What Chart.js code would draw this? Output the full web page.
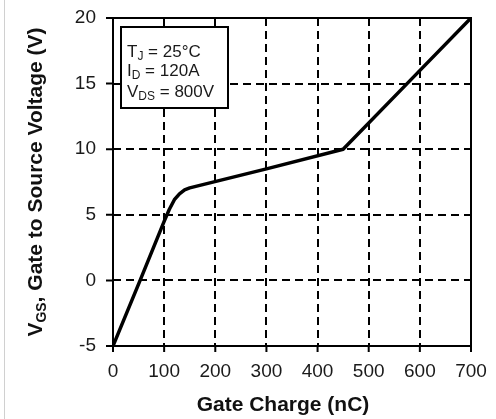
<!DOCTYPE html>
<html>
<head>
<meta charset="utf-8">
<script src="https://cdn.jsdelivr.net/npm/chart.js@4"></script>
<style>
  html, body { margin: 0; padding: 0; background: #fff; }
  #wrap { width: 496px; height: 419px; position: relative; }
</style>
</head>
<body>
<div id="wrap"><canvas id="chartGateCharge"></canvas></div>
<script>
// Gate charge curve
const gateCharge = [0, 53, 100, 110, 120, 130, 140, 150, 300, 450, 575, 700];
const vgs = [-5, 0, 4.5, 5.4, 6.15, 6.6, 6.9, 7.05, 8.5, 10, 15, 20];

const xTicks = [0, 100, 200, 300, 400, 500, 600, 700];
const yTicks = [-5, 0, 5, 10, 15, 20];

const FONTE = '"Liberation Sans", Arial, sans-serif';

// escreve texto com subscritos: partes = [[texto, ehSub], ...]
function textoRico(ctx, x, y, partes, tam, peso) {
    let px = x;
    partes.forEach(([txt, sub]) => {
        const t = sub ? Math.round(tam * 0.68) : tam;
        ctx.font = `${peso} ${t}px ${FONTE}`;
        ctx.fillText(txt, px, sub ? y + tam * 0.2 : y);
        px += ctx.measureText(txt).width;
    });
    return px - x;
}

function larguraRica(ctx, partes, tam, peso) {
    let w = 0;
    partes.forEach(([txt, sub]) => {
        const t = sub ? Math.round(tam * 0.68) : tam;
        ctx.font = `${peso} ${t}px ${FONTE}`;
        w += ctx.measureText(txt).width;
    });
    return w;
}

const molduraPlugin = {
    id: 'moldura',
    afterDraw(chart) {
        const ctx = chart.ctx;
        const a = chart.chartArea;
        const sx = chart.scales.x, sy = chart.scales.y;
        ctx.save();

        // borda cinza da imagem
        ctx.strokeStyle = '#d0d0d0';
        ctx.lineWidth = 1;
        ctx.beginPath();
        ctx.moveTo(4.5, 0); ctx.lineTo(4.5, chart.height);
        ctx.stroke();

        // moldura e marcas
        ctx.strokeStyle = '#000';
        ctx.lineWidth = 2;
        ctx.strokeRect(a.left, a.top, a.right - a.left, a.bottom - a.top);
        ctx.beginPath();
        xTicks.forEach(v => {
            const px = sx.getPixelForValue(v);
            ctx.moveTo(px, a.bottom); ctx.lineTo(px, a.bottom + 6);
        });
        yTicks.forEach(v => {
            const py = sy.getPixelForValue(v);
            ctx.moveTo(a.left - 7, py); ctx.lineTo(a.left, py);
        });
        ctx.stroke();

        // caixa de condições
        const bx = a.left + 8, by = a.top + 9, bw = 107, bh = 81;
        ctx.fillStyle = '#fff';
        ctx.fillRect(bx, by, bw, bh);
        ctx.lineWidth = 2;
        ctx.strokeRect(bx, by, bw, bh);
        ctx.fillStyle = '#1a1a1a';
        ctx.textBaseline = 'alphabetic';
        ctx.textAlign = 'left';
        textoRico(ctx, bx + 6, by + 30, [['T'], ['J', 1], [' = 25°C']], 17, 'normal');
        textoRico(ctx, bx + 6, by + 49, [['I'], ['D', 1], [' = 120A']], 17, 'normal');
        textoRico(ctx, bx + 6, by + 70, [['V'], ['DS', 1], [' = 800V']], 17, 'normal');

        // títulos dos eixos
        ctx.fillStyle = '#111';
        const tituloY = [['V'], ['GS', 1], [', Gate to Source Voltage (V)']];
        const wY = larguraRica(ctx, tituloY, 21, 'bold');
        ctx.save();
        ctx.translate(42, (a.top + a.bottom) / 2);
        ctx.rotate(-Math.PI / 2);
        textoRico(ctx, -wY / 2, 0, tituloY, 21, 'bold');
        ctx.restore();

        const tituloX = [['Gate Charge (nC)']];
        const wX = larguraRica(ctx, tituloX, 21, 'bold');
        textoRico(ctx, 283 - wX / 2, 411, tituloX, 21, 'bold');

        ctx.restore();
    }
};

function gerarGrafico() {
    const ctx = document.getElementById('chartGateCharge').getContext('2d');
    const pontos = gateCharge.map((q, i) => ({ x: q, y: vgs[i] }));
    new Chart(ctx, {
        type: 'scatter',
        data: {
            datasets: [{
                data: pontos,
                showLine: true,
                borderColor: '#000',
                borderWidth: 3.5,
                pointRadius: 0,
                tension: 0,
                borderJoinStyle: 'round',
                borderCapStyle: 'round'
            }]
        },
        options: {
            responsive: true,
            maintainAspectRatio: false,
            animation: false,
            layout: { padding: { top: 18, right: 25, left: 0, bottom: 0 } },
            plugins: { legend: { display: false }, tooltip: { enabled: false } },
            scales: {
                x: {
                    type: 'linear', min: 0, max: 700,
                    afterBuildTicks: s => { s.ticks = xTicks.map(v => ({ value: v })); },
                    afterFit: s => { s.height = 73; s.paddingLeft = 0; s.paddingRight = 0; },
                    grid: { color: '#000', lineWidth: 2, drawTicks: false },
                    border: { display: false, dash: [8, 5] },
                    ticks: { color: '#1a1a1a', padding: 14, maxRotation: 0, font: { size: 19, family: FONTE } }
                },
                y: {
                    type: 'linear', min: -5, max: 20,
                    afterBuildTicks: s => { s.ticks = yTicks.map(v => ({ value: v })); },
                    afterFit: s => { s.width = 113; s.paddingTop = 0; s.paddingBottom = 0; },
                    grid: { color: '#000', lineWidth: 2, drawTicks: false },
                    border: { display: false, dash: [8, 5] },
                    ticks: { color: '#1a1a1a', padding: 17, font: { size: 19, family: FONTE } }
                }
            }
        },
        plugins: [molduraPlugin]
    });
}

window.onload = gerarGrafico;
</script>
</body>
</html>
